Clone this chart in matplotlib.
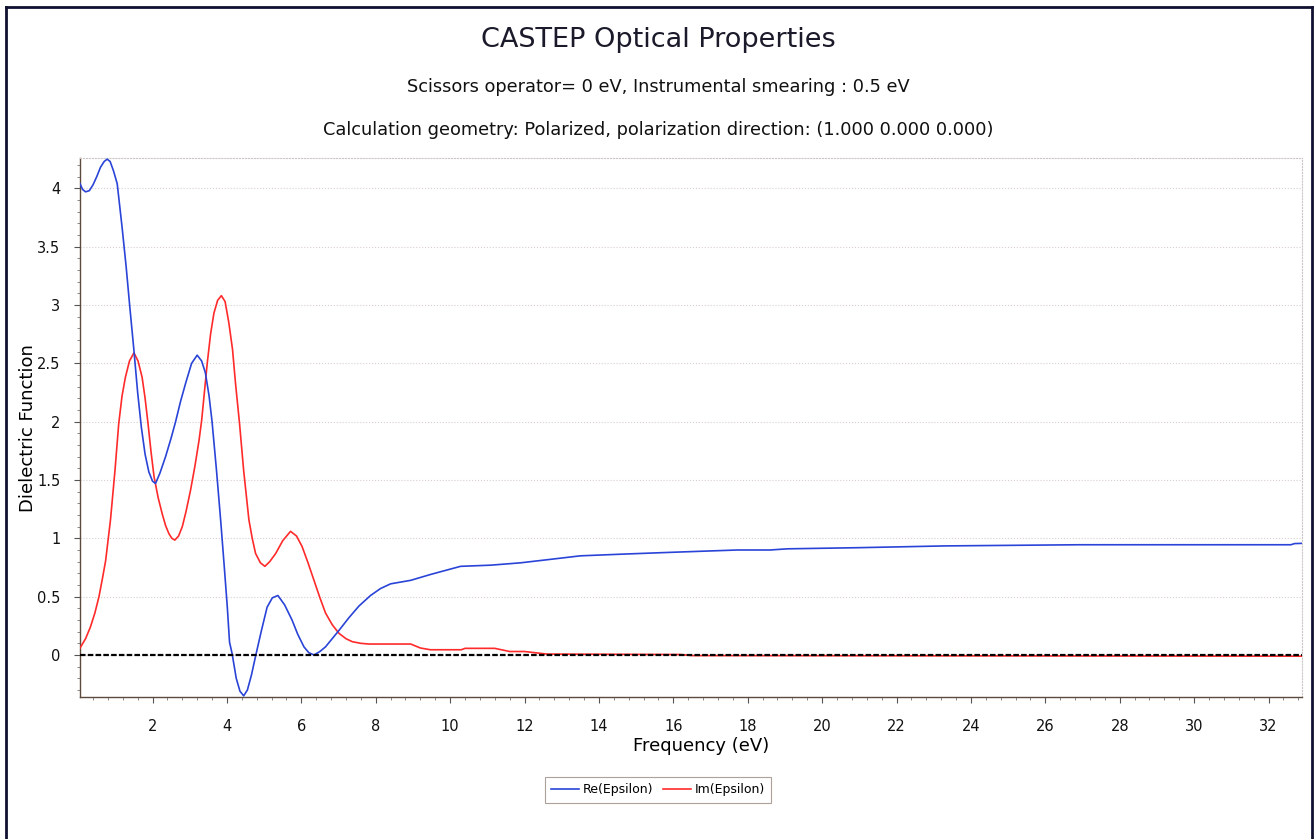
import matplotlib
matplotlib.use("Agg")
import matplotlib.pyplot as plt
from matplotlib.lines import Line2D
from matplotlib.ticker import MultipleLocator

# Re(Epsilon)
re_x = [0.05, 0.12, 0.2, 0.3, 0.4, 0.5, 0.6, 0.7, 0.78, 0.86, 0.95, 1.05, 1.18, 1.29, 1.39,
        1.5, 1.6, 1.7, 1.8, 1.9, 2.0, 2.08, 2.2, 2.35, 2.5, 2.62, 2.75, 2.89, 3.05, 3.2,
        3.32, 3.42, 3.52, 3.6, 3.72, 3.83, 3.93, 4.01, 4.07, 4.14, 4.25, 4.35, 4.45, 4.55,
        4.66, 4.77, 4.92, 5.08, 5.22, 5.37, 5.55, 5.75, 5.9, 6.07, 6.2, 6.34, 6.5, 6.65,
        6.83, 7.01, 7.28, 7.55, 7.86, 8.13, 8.4, 8.94, 9.47, 10.28, 11.09, 11.89, 12.7,
        13.5, 14.67, 15.93, 16.82, 17.72, 18.6, 19.06, 21.0, 23.3, 26.9, 29.1, 32.6, 32.7, 32.9]
re_y = [4.04, 3.99, 3.97, 3.98, 4.03, 4.10, 4.18, 4.23, 4.25, 4.23, 4.15, 4.04, 3.67, 3.33, 2.98,
        2.61, 2.25, 1.95, 1.72, 1.57, 1.49, 1.47, 1.56, 1.70, 1.86, 2.00, 2.17, 2.33, 2.50, 2.57,
        2.52, 2.42, 2.22, 2.00, 1.58, 1.16, 0.75, 0.41, 0.11, 0.01, -0.20, -0.31, -0.35, -0.30,
        -0.17, -0.01, 0.20, 0.41, 0.49, 0.51, 0.43, 0.30, 0.18, 0.07, 0.02, 0.0, 0.03, 0.07,
        0.14, 0.21, 0.32, 0.42, 0.51, 0.57, 0.61, 0.64, 0.69, 0.76, 0.77, 0.79, 0.82,
        0.85, 0.865, 0.88, 0.89, 0.90, 0.90, 0.91, 0.92, 0.935, 0.945, 0.945, 0.945, 0.955, 0.957]

# Im(Epsilon)
im_x = [0.05, 0.2, 0.33, 0.45, 0.56, 0.65, 0.74, 0.87, 0.99, 1.09, 1.18, 1.27, 1.38, 1.5, 1.61,
        1.72, 1.8, 1.88, 1.96, 2.04, 2.15, 2.26, 2.35, 2.44, 2.52, 2.6, 2.7, 2.8, 2.9, 3.02,
        3.14, 3.25, 3.32, 3.47, 3.56, 3.65, 3.75, 3.85, 3.95, 4.05, 4.15, 4.23, 4.34, 4.45,
        4.59, 4.68, 4.77, 4.9, 5.02, 5.15, 5.31, 5.5, 5.71, 5.87, 6.02, 6.18, 6.34, 6.5, 6.65,
        6.83, 7.01, 7.2, 7.37, 7.6, 7.82, 8.94, 9.2, 9.47, 10.3, 10.4, 11.2, 11.6, 12.0, 12.6,
        16.2, 16.5, 32.9]
im_y = [0.06, 0.14, 0.24, 0.36, 0.50, 0.65, 0.81, 1.16, 1.58, 1.98, 2.22, 2.38, 2.52, 2.59, 2.52,
        2.38, 2.20, 1.98, 1.74, 1.53, 1.35, 1.21, 1.11, 1.04, 1.00, 0.985, 1.02, 1.10, 1.23, 1.41,
        1.62, 1.84, 2.01, 2.50, 2.75, 2.93, 3.04, 3.08, 3.03, 2.85, 2.62, 2.33, 1.98, 1.58,
        1.16, 1.00, 0.87, 0.79, 0.76, 0.80, 0.87, 0.98, 1.06, 1.02, 0.93, 0.79, 0.64, 0.49, 0.36,
        0.26, 0.186, 0.14, 0.114, 0.10, 0.094, 0.094, 0.06, 0.045, 0.045, 0.057, 0.057, 0.03, 0.03, 0.008,
        0.004, -0.005, -0.01]

fig = plt.figure(figsize=(13.16, 8.39), dpi=100)
ax = fig.add_axes([80 / 1316, 1 - 697 / 839, 1222 / 1316, 539 / 839])

ax.plot(im_x, im_y, color="#ff2a2a", lw=1.2, label="Im(Epsilon)", zorder=3)
ax.plot(re_x, re_y, color="#2a44d8", lw=1.2, label="Re(Epsilon)", zorder=4)
ax.axhline(0, color="black", lw=1.6, ls=(0, (2.5, 1)), zorder=5)

ax.set_xlim(0.05, 32.9)
ax.set_ylim(-0.36, 4.26)
ax.xaxis.set_major_locator(MultipleLocator(2))
ax.xaxis.set_minor_locator(MultipleLocator(0.4))
ax.yaxis.set_major_locator(MultipleLocator(0.5))
ax.yaxis.set_minor_locator(MultipleLocator(0.1))
ax.set_yticks([0, 0.5, 1, 1.5, 2, 2.5, 3, 3.5, 4])
ax.set_yticklabels(["0", "0.5", "1", "1.5", "2", "2.5", "3", "3.5", "4"])
ax.set_xticks(range(2, 33, 2))
ax.tick_params(which="major", length=4, width=0.8, color="#555555", labelsize=10.5, labelcolor="#111111")
ax.tick_params(which="minor", length=2, width=0.6, color="#777777")
ax.tick_params(axis="x", pad=12)
ax.tick_params(axis="y", pad=10)

ax.grid(axis="y", which="major", color="#d9cfcf", lw=0.8, ls=":")
for s in ["left", "bottom"]:
    ax.spines[s].set_color("#5c4a3c")
    ax.spines[s].set_linewidth(1.0)
for s in ["right", "top"]:
    ax.spines[s].set_color("#cfc6c6")
    ax.spines[s].set_linestyle(":")
    ax.spines[s].set_linewidth(0.8)

fig.text(0.5, 1 - 40 / 839, "CASTEP Optical Properties", ha="center", va="center",
         fontsize=19.5, color="#1a1a2a")
fig.text(0.5, 1 - 87 / 839, "Scissors operator= 0 eV, Instrumental smearing : 0.5 eV",
         ha="center", va="center", fontsize=12.8, color="#111111")
fig.text(0.5, 1 - 130 / 839, "Calculation geometry: Polarized, polarization direction: (1.000 0.000 0.000)",
         ha="center", va="center", fontsize=12.8, color="#111111")
fig.text(701 / 1316, 1 - 746 / 839, "Frequency (eV)", ha="center", va="center", fontsize=13)
fig.text(28 / 1316, 1 - 428 / 839, "Dielectric Function", ha="center", va="center",
         rotation=90, fontsize=13)

h, l = ax.get_legend_handles_labels()
leg = fig.legend(h[::-1], l[::-1], loc="center", bbox_to_anchor=(658 / 1316, 1 - 790 / 839),
                 ncol=2, fontsize=9, frameon=True, fancybox=False, handlelength=2.2,
                 handletextpad=0.3, columnspacing=0.8, borderpad=0.5)
leg.get_frame().set_edgecolor("#9a8a80")
leg.get_frame().set_linewidth(0.8)

# marco exterior
fig.add_artist(Line2D([6 / 1316, 6 / 1316], [0, 1 - 7 / 839], color="#101030", lw=2, transform=fig.transFigure))
fig.add_artist(Line2D([6 / 1316, 1312 / 1316], [1 - 7 / 839, 1 - 7 / 839], color="#101030", lw=2, transform=fig.transFigure))
fig.add_artist(Line2D([1312 / 1316, 1312 / 1316], [0, 1 - 7 / 839], color="#101030", lw=2, transform=fig.transFigure))

fig.savefig("out.png", dpi=100)
